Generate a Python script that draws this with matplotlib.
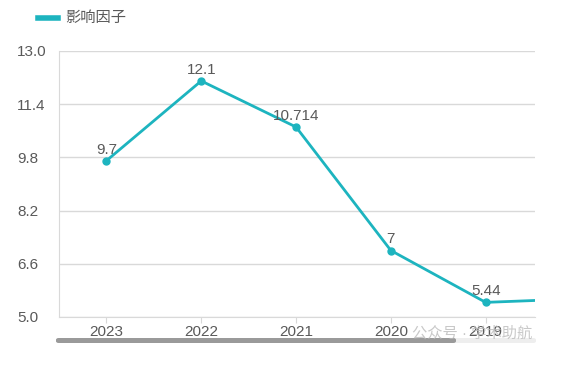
import matplotlib.pyplot as plt
from matplotlib.patches import FancyBboxPatch

plt.rcParams['font.family'] = ['Liberation Sans', 'Noto Sans CJK SC', 'DejaVu Sans']

years = ['2023', '2022', '2021', '2020', '2019', '2018']
impact = [9.7, 12.1, 10.714, 7.0, 5.44, 5.55]
labels = ['9.7', '12.1', '10.714', '7', '5.44', '']
yticks = [5.0, 6.6, 8.2, 9.8, 11.4, 13.0]

teal = '#1DB4BF'
grid_c = '#D9D9D9'
text_c = '#595959'

fig = plt.figure(figsize=(5.66, 3.65), dpi=100)
ax = fig.add_axes([59 / 566, 1 - 317 / 365, (535 - 59) / 566, (317 - 51) / 365])

x = list(range(len(years)))
ax.plot(x, impact, color=teal, lw=2, marker='o', ms=5, clip_on=True)
for xi, v, lab in zip(x, impact, labels):
    if lab:
        ax.annotate(lab, (xi, v), xytext=(0, 3), textcoords='offset points',
                    ha='center', va='bottom', fontsize=11, color=text_c)

ax.set_xlim(-0.5, 4.52)
ax.set_ylim(5.0, 13.0)
ax.set_yticks(yticks)
ax.set_yticklabels([f'{t:.1f}' for t in yticks])
ax.set_xticks(x[:5])
ax.set_xticklabels(years[:5])
ax.grid(axis='y', color=grid_c, lw=1)
ax.set_axisbelow(True)
for s in ['top', 'right']:
    ax.spines[s].set_visible(False)
for s in ['left', 'bottom']:
    ax.spines[s].set_color(grid_c)
ax.tick_params(axis='y', length=0, pad=30, labelsize=11, labelcolor=text_c)
for t in ax.get_yticklabels():
    t.set_horizontalalignment('left')
ax.tick_params(axis='x', length=4, color=grid_c, labelsize=11, labelcolor=text_c, pad=2)

# legend
fig.lines.append(plt.Line2D([38 / 566, 58 / 566], [1 - 18 / 365] * 2, color=teal, lw=4,
                            transform=fig.transFigure))
fig.text(65 / 566, 1 - 18 / 365, '影响因子', fontsize=11, color=text_c, va='center')

# scrollbar
fig.patches.append(FancyBboxPatch((56 / 566, 1 - 343 / 365), (536 - 56) / 566, 5 / 365,
                                  boxstyle='round,pad=0,rounding_size=0.005', fc='#EEEEEE', ec='none',
                                  transform=fig.transFigure))
fig.patches.append(FancyBboxPatch((56 / 566, 1 - 343 / 365), (456 - 56) / 566, 5 / 365,
                                  boxstyle='round,pad=0,rounding_size=0.005', fc='#9A9A9A', ec='none',
                                  transform=fig.transFigure))

# watermark
fig.text(412 / 566, 1 - 333 / 365, '公众号 · 学术助航', fontsize=11, color='#BBBBBB',
         alpha=0.8, va='center')

fig.savefig('out.png', dpi=100)
